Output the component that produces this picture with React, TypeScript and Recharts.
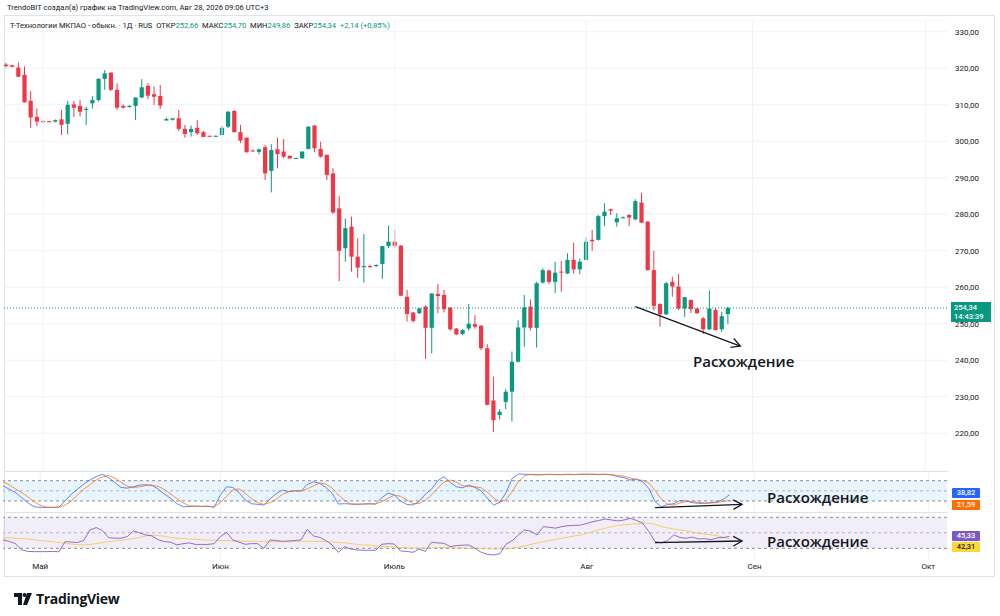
import React from 'react'
import {
  ComposedChart,
  Bar,
  Line,
  XAxis,
  YAxis,
  CartesianGrid,
  ReferenceLine,
  ReferenceArea,
} from 'recharts'

// OHLC (118 дневных свечей)
const opens = [
  321.0, 320.8, 320.2, 318.2, 311.1, 306.7, 305.5, 305.5, 305.4, 306.0,
  304.8, 310.1, 309.7, 308.6, 310.4, 311.3, 317.1, 318.8, 314.1, 309.7,
  309.4, 309.7, 312.0, 315.2, 312.9, 312.4, 305.7, 305.9, 306.3, 303.4,
  302.5, 303.7, 302.5, 301.5, 301.4, 301.7, 304.0, 308.3, 302.5, 301.0,
  297.5, 297.1, 298.4, 291.9, 297.8, 297.2, 296.0, 295.4, 295.3, 297.9,
  304.3, 297.9, 296.3, 291.2, 281.6, 270.7, 276.6, 268.4, 265.5, 265.8,
  265.8, 266.4, 271.3, 272.5, 271.4, 257.4, 253.1, 252.9, 254.7, 248.9,
  258.2, 257.9, 254.4, 248.7, 247.2, 248.7, 249.9, 249.5, 243.3, 229.0,
  225.0, 228.6, 231.4, 239.6, 249.0, 254.7, 248.9, 261.3, 264.6, 261.5,
  264.3, 263.8, 267.5, 264.9, 267.5, 273.0, 273.0, 279.5, 281.4, 277.8,
  279.1, 279.8, 278.6, 283.2, 278.0, 264.7, 255.4, 252.6, 261.5, 260.2,
  254.2, 256.5, 254.2, 251.5, 248.5, 253.8, 248.5, 252.66,
]
const highs = [
  321.5, 321.0, 321.6, 320.5, 313.8, 309.0, 305.8, 305.6, 306.0, 308.6,
  311.1, 311.1, 311.3, 309.5, 312.4, 317.3, 319.5, 318.9, 315.9, 310.1,
  309.9, 312.0, 317.0, 315.9, 315.0, 315.4, 306.5, 306.3, 308.6, 304.5,
  304.3, 305.8, 302.8, 301.6, 301.6, 304.2, 308.3, 308.6, 304.5, 301.0,
  297.7, 298.0, 299.0, 299.2, 301.0, 300.6, 296.2, 295.5, 297.2, 304.2,
  304.5, 299.9, 296.3, 292.6, 285.0, 278.8, 279.4, 273.4, 274.6, 266.2,
  266.3, 271.3, 276.9, 275.7, 271.6, 259.3, 253.2, 254.4, 255.1, 258.3,
  260.9, 259.3, 254.6, 248.8, 248.5, 255.4, 252.4, 249.6, 244.4, 235.5,
  226.6, 232.1, 242.4, 251.0, 257.9, 256.7, 261.5, 265.2, 264.8, 267.0,
  267.2, 269.3, 272.2, 267.9, 273.7, 275.7, 279.8, 283.0, 281.5, 280.3,
  279.4, 280.0, 284.1, 285.9, 278.1, 270.0, 255.6, 261.5, 262.9, 263.6,
  257.3, 256.7, 254.3, 251.9, 259.1, 254.2, 253.3, 254.7,
]
const lows = [
  320.2, 320.2, 317.6, 310.6, 303.7, 304.2, 305.2, 305.2, 305.2, 301.7,
  301.9, 306.6, 306.8, 304.5, 309.0, 310.9, 314.1, 313.8, 308.6, 309.0,
  309.2, 305.8, 311.8, 311.6, 310.0, 308.9, 305.7, 305.7, 302.8, 301.0,
  301.3, 301.7, 301.2, 301.3, 301.3, 301.6, 303.6, 302.4, 299.5, 296.9,
  297.2, 296.4, 289.4, 286.0, 292.6, 295.3, 295.2, 295.2, 295.3, 297.8,
  297.0, 295.5, 289.4, 280.0, 261.7, 267.0, 264.3, 262.6, 261.3, 265.4,
  265.6, 262.3, 270.7, 270.7, 257.6, 250.6, 250.3, 252.7, 240.4, 241.9,
  252.9, 253.1, 248.1, 246.9, 246.9, 248.1, 248.7, 242.8, 227.7, 220.4,
  223.8, 226.6, 223.2, 239.4, 243.7, 248.1, 243.5, 261.0, 260.9, 258.4,
  258.8, 263.6, 263.8, 263.6, 267.3, 270.0, 272.8, 276.8, 279.8, 276.6,
  278.9, 276.8, 278.4, 277.6, 264.6, 253.6, 249.2, 252.4, 257.4, 253.8,
  251.9, 253.0, 252.8, 247.2, 248.3, 248.1, 247.8, 249.86,
]
const closes = [
  320.6, 320.4, 317.7, 310.7, 306.5, 305.4, 305.4, 305.3, 305.8, 304.5,
  310.0, 309.2, 308.1, 308.9, 311.3, 317.1, 318.6, 314.1, 309.2, 309.2,
  309.7, 312.0, 314.8, 312.5, 312.2, 309.8, 306.1, 306.3, 303.4, 302.0,
  303.4, 302.2, 301.2, 301.4, 301.5, 303.7, 308.1, 302.5, 300.2, 297.0,
  297.4, 297.8, 291.2, 297.6, 296.5, 295.8, 295.3, 295.4, 297.2, 304.0,
  298.1, 295.8, 290.8, 280.5, 270.0, 276.2, 268.4, 265.4, 265.8, 265.5,
  266.1, 271.3, 272.5, 271.4, 257.7, 252.7, 250.8, 254.2, 248.9, 258.3,
  257.6, 254.0, 248.5, 247.1, 248.3, 250.0, 249.2, 243.3, 227.8, 223.6,
  225.9, 231.4, 239.6, 249.0, 254.5, 248.9, 261.1, 264.7, 261.5, 264.0,
  264.1, 267.5, 264.9, 267.0, 272.5, 272.6, 279.5, 280.7, 281.0, 278.9,
  279.2, 279.1, 283.6, 277.7, 264.7, 254.9, 252.6, 261.1, 260.2, 254.2,
  257.3, 254.0, 252.9, 248.5, 254.2, 248.3, 252.1, 254.34,
]

// Стохастик %K / %D
const stochK = [
  65, 55, 45, 30, 15, 3, 1, 1, 1, 2,
  20, 40, 55, 70, 82, 92, 99, 89, 75, 60,
  58, 62, 67, 68, 66, 55, 40, 28, 12, 3,
  4, 5, 4, 5, 1, 38, 62, 60, 45, 23,
  12, 10, 8, 26, 42, 52, 48, 50, 50, 69,
  77, 72, 60, 43, 11, 12, 11, 10, 11, 12,
  11, 30, 43, 38, 20, 10, 8, 18, 40, 55,
  80, 92, 75, 62, 59, 67, 60, 50, 28, 8,
  16, 45, 87, 100, 99, 98, 97, 98, 99, 98,
  98, 99, 98, 99, 99, 99, 98, 99, 97, 92,
  89, 82, 85, 77, 57, 18, 3, 10, 12, 21,
  20, 15, 13, 13, 15, 18, 25, 38.82,
]
const stochD = [
  77, 68, 56, 45, 32, 18, 7, 2, 1, 1,
  8, 20, 38, 55, 68, 82, 91, 95, 88, 75,
  64, 60, 62, 66, 67, 63, 54, 41, 27, 14,
  6, 4, 4, 4, 3, 15, 34, 53, 56, 43,
  27, 15, 10, 15, 25, 40, 47, 50, 49, 56,
  65, 73, 70, 58, 38, 22, 11, 11, 11, 11,
  11, 18, 28, 37, 34, 23, 13, 12, 22, 38,
  58, 76, 82, 76, 65, 63, 62, 59, 46, 29,
  17, 23, 49, 77, 95, 99, 98, 98, 98, 98,
  98, 98, 98, 99, 99, 99, 99, 99, 98, 96,
  93, 88, 83, 81, 73, 51, 26, 10, 8, 14,
  18, 19, 16, 14, 14, 15, 19, 21.59,
]

// RSI и его скользящая
const rsi = [
  40.8, 39, 36, 28, 26, 25.7, 25.7, 25.7, 26, 25.5,
  38.6, 38, 37.5, 40, 53.7, 56.7, 53, 43.8, 43, 43,
  45, 52.4, 50, 47.2, 46, 41, 38.6, 38, 34.3, 36,
  37, 35, 35, 35, 36, 45, 50.7, 40.8, 38, 35.2,
  36, 36, 30, 40.8, 40, 39, 39.5, 40, 41, 54.5,
  45.9, 44, 40, 34.3, 24.8, 32.2, 29, 27.9, 27.4, 27.4,
  27.4, 35.2, 36, 35.5, 26.6, 26, 24.8, 29.1, 26, 37.8,
  37, 36.5, 32.2, 33.5, 34, 34.3, 30, 24.8, 22.3, 21.4,
  23, 35.2, 40, 47.2, 53.7, 52, 47.2, 58, 57, 56,
  58, 59.2, 59.5, 60, 62, 64.4, 66, 67.8, 66.5, 65.3,
  66.5, 68.7, 66, 62.3, 51.5, 38.6, 37, 40, 47.2, 44,
  43, 44.5, 42, 42.5, 41, 43.5, 43.8, 45.33,
]
const rsiMa = [
  43.8, 43.5, 43, 42.5, 42, 41, 40, 39.3, 38.5, 37.5,
  36.5, 35.5, 34.8, 34.3, 35, 36, 37.5, 38.5, 39.5, 40.5,
  41.5, 42.5, 44, 46, 47.2, 46.5, 45.5, 44, 43, 42.5,
  42, 41.5, 41, 40.5, 40.5, 40, 40, 39.5, 39.5, 39,
  39, 39, 38.5, 38.5, 38.5, 38.5, 38.5, 39, 39, 39,
  39, 39, 38.5, 38, 37.5, 37, 36, 35, 34.3, 34,
  33, 32.5, 32, 31.5, 31, 30.5, 30, 30, 30, 30.5,
  31, 31, 31, 30.5, 30.5, 30, 30, 29.5, 29.5, 29,
  29, 29, 30, 31.5, 33, 35, 37, 38.6, 40, 41.5,
  43, 44.5, 46, 47.2, 49, 51.5, 54, 56, 58, 59.5,
  60.5, 61, 61.7, 62.2, 62.3, 61, 58, 56.5, 55, 53.7,
  52.5, 51, 49.4, 48.5, 47.2, 46.4, 44.5, 42.31,
]

const SLOTS = 153 // свечи + пустое место до октября
const monthTicks = [6, 35, 63, 94, 121, 149]
const monthNames = ['Май', 'Июн', 'Июль', 'Авг', 'Сен', 'Окт']
const priceTicks = [220, 230, 240, 250, 260, 270, 280, 290, 300, 310, 320, 330]
const lastPrice = 254.34

const UP = '#089981'
const DOWN = '#f23645'
const GRID = '#f0f2f6'
const FONT = 'Roboto, "Noto Sans", sans-serif'

const rows = Array.from({ length: SLOTS }, (_, i) => {
  const has = i < opens.length
  return {
    i,
    open: has ? opens[i] : null,
    high: has ? highs[i] : null,
    low: has ? lows[i] : null,
    close: has ? closes[i] : null,
    range: has ? [lows[i], highs[i]] : null,
    k: has ? stochK[i] : null,
    d: has ? stochD[i] : null,
    rsi: has ? rsi[i] : null,
    ma: has ? rsiMa[i] : null,
  }
})

const Candle = (props: any) => {
  const { x, y, width, height, payload } = props
  if (!payload || payload.open == null) return <g />
  const { open, high, low, close } = payload
  const top = Math.min(y, y + height)
  const bottom = Math.max(y, y + height)
  const span = high - low || 1
  const toY = (p: number) => top + ((high - p) / span) * (bottom - top)
  const cx = x + width / 2
  const color = close >= open ? UP : DOWN
  const yo = toY(open)
  const yc = toY(close)
  const bw = width * 0.7
  return (
    <g>
      <line x1={cx} x2={cx} y1={top} y2={bottom} stroke={color} strokeWidth={1} />
      <rect
        x={cx - bw / 2}
        y={Math.min(yo, yc)}
        width={bw}
        height={Math.max(1, Math.abs(yc - yo))}
        fill={color}
      />
    </g>
  )
}

// линия со стрелкой для пометок «Расхождение»
const Arrow = (props: any) => {
  const { x1, y1, x2, y2 } = props
  const ang = Math.atan2(y2 - y1, x2 - x1)
  const len = 10
  const a1 = ang + Math.PI - 0.5
  const a2 = ang + Math.PI + 0.5
  return (
    <g stroke="#131722" strokeWidth={1.3} fill="none">
      <line x1={x1} y1={y1} x2={x2} y2={y2} />
      <polyline
        points={`${x2 + len * Math.cos(a1)},${y2 + len * Math.sin(a1)} ${x2},${y2} ${x2 + len * Math.cos(a2)},${y2 + len * Math.sin(a2)}`}
      />
    </g>
  )
}

const fmt = (v: number) => v.toFixed(2).replace('.', ',')

const axisTick = { fill: '#131722', fontSize: 8, fontFamily: FONT }
const chartMargin = { top: 0, right: 0, bottom: 0, left: 3 }

const monthLines = monthTicks.map((m) => (
  <ReferenceLine key={m} x={m} stroke={GRID} strokeWidth={1} ifOverflow="visible" />
))

const ValueTag = ({ top, bg, color, text }: { top: number; bg: string; color: string; text: string }) => (
  <div
    style={{
      position: 'absolute',
      left: 952,
      top,
      width: 28,
      height: 10,
      background: bg,
      color,
      fontSize: 7.5,
      lineHeight: '10px',
      textAlign: 'center',
      fontFamily: FONT,
      fontWeight: 500,
      borderRadius: 1,
    }}
  >
    {text}
  </div>
)

const Note = ({ left, top }: { left: number; top: number }) => (
  <div
    style={{
      position: 'absolute',
      left,
      top,
      fontFamily: '"Open Sans", sans-serif',
      fontWeight: 600,
      fontSize: 15,
      lineHeight: '18px',
      color: '#131722',
      whiteSpace: 'nowrap',
    }}
  >
    Расхождение
  </div>
)

export default function App() {
  return (
    <div
      style={{
        position: 'absolute',
        left: 0,
        top: 0,
        width: 1000,
        height: 616,
        background: '#fff',
        overflow: 'hidden',
        fontFamily: FONT,
      }}
    >
      <div style={{ position: 'absolute', left: 7, top: 3, fontSize: 7.6, color: '#131722', whiteSpace: 'nowrap' }}>
        TrendoBIT создал(а) график на TradingView.com, Авг 28, 2026 09:06 UTC+3
      </div>
      <div
        style={{
          position: 'absolute',
          left: 4,
          top: 15,
          width: 991,
          height: 562,
          border: '1px solid #e0e3eb',
          boxSizing: 'border-box',
        }}
      />

      {/* цена */}
      <div style={{ position: 'absolute', left: 0, top: 20 }}>
        <ComposedChart width={1000} height={451} data={rows} margin={chartMargin} barCategoryGap={0}>
          <CartesianGrid vertical={false} stroke={GRID} />
          <XAxis dataKey="i" type="category" hide />
          <YAxis
            orientation="right"
            width={53}
            domain={[209.67, 333.23]}
            allowDataOverflow
            ticks={priceTicks}
            tickFormatter={fmt}
            tick={axisTick}
            tickSize={0}
            tickMargin={8}
            axisLine={false}
            tickLine={false}
          />
          {monthLines}
          <ReferenceLine y={lastPrice} stroke={UP} strokeDasharray="1 2" strokeWidth={1} />
          <Bar dataKey="range" shape={<Candle />} isAnimationActive={false} />
          <ReferenceLine
            segment={[
              { x: 102, y: 254.7 },
              { x: 119, y: 243.9 },
            ]}
            shape={Arrow}
            ifOverflow="visible"
          />
        </ComposedChart>
      </div>

      {/* стохастик */}
      <div style={{ position: 'absolute', left: 0, top: 471 }}>
        <ComposedChart width={1000} height={41} data={rows} margin={chartMargin}>
          <XAxis dataKey="i" type="category" hide />
          <YAxis
            orientation="right"
            width={53}
            domain={[-12.6, 108.7]}
            allowDataOverflow
            ticks={[100]}
            tickFormatter={fmt}
            tick={axisTick}
            tickSize={0}
            tickMargin={8}
            axisLine={false}
            tickLine={false}
          />
          {monthLines}
          <ReferenceArea y1={20} y2={80} fill="#2196f3" fillOpacity={0.1} stroke="none" />
          <ReferenceLine y={80} stroke="#8a8d96" strokeDasharray="3 3" />
          <ReferenceLine y={50} stroke="#b2b5be" strokeDasharray="3 3" />
          <ReferenceLine y={20} stroke="#8a8d96" strokeDasharray="3 3" />
          <Line dataKey="k" stroke="#2962ff" strokeOpacity={0.75} strokeWidth={1} dot={false} isAnimationActive={false} />
          <Line dataKey="d" stroke="#ff6d00" strokeOpacity={0.75} strokeWidth={1} dot={false} isAnimationActive={false} />
          <ReferenceLine
            segment={[
              { x: 105, y: 0.1 },
              { x: 119, y: 10.2 },
            ]}
            shape={Arrow}
            ifOverflow="visible"
          />
        </ComposedChart>
      </div>

      {/* RSI */}
      <div style={{ position: 'absolute', left: 0, top: 512 }}>
        <ComposedChart width={1000} height={63} data={rows} margin={chartMargin}>
          <XAxis
            dataKey="i"
            type="category"
            height={16}
            ticks={monthTicks}
            interval={0}
            tickFormatter={(v: number) => monthNames[monthTicks.indexOf(v)] ?? ''}
            tick={axisTick}
            tickSize={0}
            tickMargin={4}
            axisLine={false}
            tickLine={false}
          />
          <YAxis orientation="right" width={53} domain={[16.2, 76.84]} allowDataOverflow tick={false} axisLine={false} tickLine={false} />
          {monthLines}
          <ReferenceArea y1={30} y2={70} fill="#7e57c2" fillOpacity={0.1} stroke="none" />
          <ReferenceLine y={70} stroke="#8a8d96" strokeDasharray="3 3" />
          <ReferenceLine y={50} stroke="#b2b5be" strokeDasharray="3 3" />
          <ReferenceLine y={30} stroke="#8a8d96" strokeDasharray="3 3" />
          <Line dataKey="ma" stroke="#f5c542" strokeOpacity={0.8} strokeWidth={1} dot={false} isAnimationActive={false} />
          <Line dataKey="rsi" stroke="#7e57c2" strokeOpacity={0.85} strokeWidth={1} dot={false} isAnimationActive={false} />
          <ReferenceLine
            segment={[
              { x: 105, y: 37.2 },
              { x: 119, y: 39.4 },
            ]}
            shape={Arrow}
            ifOverflow="visible"
          />
        </ComposedChart>
      </div>

      {/* разделители панелей */}
      <div style={{ position: 'absolute', left: 5, top: 471, width: 943, height: 1, background: '#e0e3eb' }} />
      <div style={{ position: 'absolute', left: 5, top: 512, width: 943, height: 1, background: '#e0e3eb' }} />

      {/* легенда */}
      <div style={{ position: 'absolute', left: 10, top: 21, fontSize: 7.6, color: '#131722', whiteSpace: 'nowrap' }}>
        Т-Технологии МКПАО - обыкн. · 1Д · RUS&nbsp;&nbsp;ОТКР<span style={{ color: UP }}>252,66</span>&nbsp;&nbsp;МАКС
        <span style={{ color: UP }}>254,70</span>&nbsp;&nbsp;МИН<span style={{ color: UP }}>249,86</span>&nbsp;&nbsp;ЗАКР
        <span style={{ color: UP }}>254,34</span>&nbsp;&nbsp;<span style={{ color: UP }}>+2,14 (+0,85%)</span>
      </div>

      {/* метка текущей цены */}
      <div
        style={{
          position: 'absolute',
          left: 951,
          top: 302,
          width: 40,
          height: 20,
          background: UP,
          color: '#fff',
          fontSize: 7.5,
          lineHeight: '9px',
          padding: '1px 0 0 3px',
          boxSizing: 'border-box',
          fontWeight: 500,
        }}
      >
        {fmt(lastPrice)}
        <br />
        14:43:39
      </div>

      <ValueTag top={488} bg="#2962ff" color="#fff" text={fmt(stochK[stochK.length - 1])} />
      <ValueTag top={500} bg="#ff6d00" color="#fff" text={fmt(stochD[stochD.length - 1])} />
      <ValueTag top={531} bg="#7e57c2" color="#fff" text={fmt(rsi[rsi.length - 1])} />
      <ValueTag top={542} bg="#fdd835" color="#131722" text={fmt(rsiMa[rsiMa.length - 1])} />

      <Note left={693} top={352} />
      <Note left={767} top={488} />
      <Note left={767} top={532} />

      {/* логотип */}
      <div style={{ position: 'absolute', left: 14, top: 589, display: 'flex', alignItems: 'center', gap: 4 }}>
        <svg width={18} height={12} viewBox="0 0 18 12">
          <path d="M0 0h8v12H4V4H0z" fill="#131722" />
          <circle cx={10.5} cy={2} r={2} fill="#131722" />
          <path d="M13 0h5l-5 12h-4z" fill="#131722" />
        </svg>
        <span style={{ fontSize: 14, fontWeight: 700, color: '#131722', fontFamily: '"Open Sans", sans-serif', letterSpacing: -0.3 }}>
          TradingView
        </span>
      </div>
    </div>
  )
}
